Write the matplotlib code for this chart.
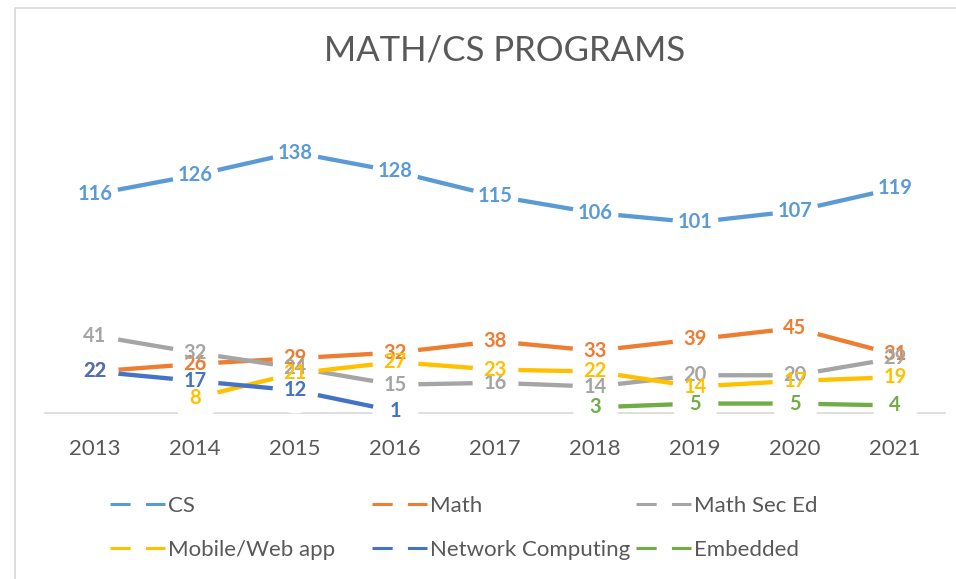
import numpy as np
import matplotlib.pyplot as plt
from matplotlib.lines import Line2D

plt.rcParams['font.family'] = ['Lato', 'DejaVu Sans']

years = ['2013', '2014', '2015', '2016', '2017', '2018', '2019', '2020', '2021']
nan = np.nan

cs = [116, 126, 138, 128, 115, 106, 101, 107, 119]
math = [22, 26, 29, 32, 38, 33, 39, 45, 31]
math_sec_ed = [41, 32, 24, 15, 16, 14, 20, 20, 29]
mobile_web = [nan, 8, 21, 27, 23, 22, 14, 17, 19]
network = [22, 17, 12, 1, nan, nan, nan, nan, nan]
embedded = [nan, nan, nan, nan, nan, 3, 5, 5, 4]

names = ['CS', 'Math', 'Math Sec Ed', 'Mobile/Web app', 'Network Computing', 'Embedded']
series = [cs, math, math_sec_ed, mobile_web, network, embedded]
colors = ['#5B9BD5', '#ED7D31', '#A5A5A5', '#FFC000', '#4472C4', '#70AD47']

W, H = 956, 579
fig = plt.figure(figsize=(W / 100, H / 100), dpi=100)
ax = fig.add_axes([45 / W, 166 / H, 900 / W, 302 / H])

x = np.arange(len(years))
# lines first
for i, (vals, c) in enumerate(zip(series, colors)):
    ax.plot(x, vals, color=c, lw=3.1, solid_capstyle='butt', zorder=2 + i * 0.01,
            clip_on=False)
# white markers leave a gap in the lines around each point
for vals in series:
    ax.plot(x, vals, ls='none', marker='o', ms=33, mfc='white', mec='none',
            zorder=3, clip_on=False)
# data labels on top of everything
for i, (vals, c) in enumerate(zip(series, colors)):
    for xi, v in zip(x, vals):
        if np.isnan(v):
            continue
        ax.text(xi, v, f'{v:g}', color=c, fontsize=14.5, fontweight='bold',
                ha='center', va='center', zorder=10 + i)

ax.set_xlim(-0.5, len(years) - 0.5)
ax.set_ylim(0, 160)
ax.set_xticks(x)
ax.set_xticklabels(years, fontsize=16, color='#595959')
ax.tick_params(axis='x', length=0, pad=19)
ax.set_yticks([])
for s in ['top', 'right', 'left']:
    ax.spines[s].set_visible(False)
ax.spines['bottom'].set_color('#D9D9D9')
ax.spines['bottom'].set_linewidth(1.2)
ax.spines['bottom'].set_zorder(1)

fig.text(505 / W, 1 - 51 / H, 'MATH/CS PROGRAMS', fontsize=25, color='#595959',
         ha='center', va='center')

# legend: three columns, two rows, dashed handles
handles = [Line2D([], [], color=c, lw=2.2, linestyle=(0, (6.6, 5.0)), dash_capstyle='butt')
           for c in colors]
col_x = [110, 372, 636]
for k in range(3):
    leg = fig.legend([handles[k], handles[k + 3]], [names[k], names[k + 3]],
                     loc='upper left', bbox_to_anchor=(col_x[k] / W, 1 - 496 / H),
                     frameon=False, fontsize=16, handlelength=2.48, handletextpad=0.15,
                     labelspacing=1.07, borderpad=0, borderaxespad=0)
    for t in leg.get_texts():
        t.set_color('#595959')

# outer chart border (left and top edges)
fig.add_artist(Line2D([15 / W, 15 / W, 1.0], [0.0, 1 - 8 / H, 1 - 8 / H],
                      transform=fig.transFigure, color='#D9D9D9', lw=1.2))

fig.savefig('out.png', dpi=100)
